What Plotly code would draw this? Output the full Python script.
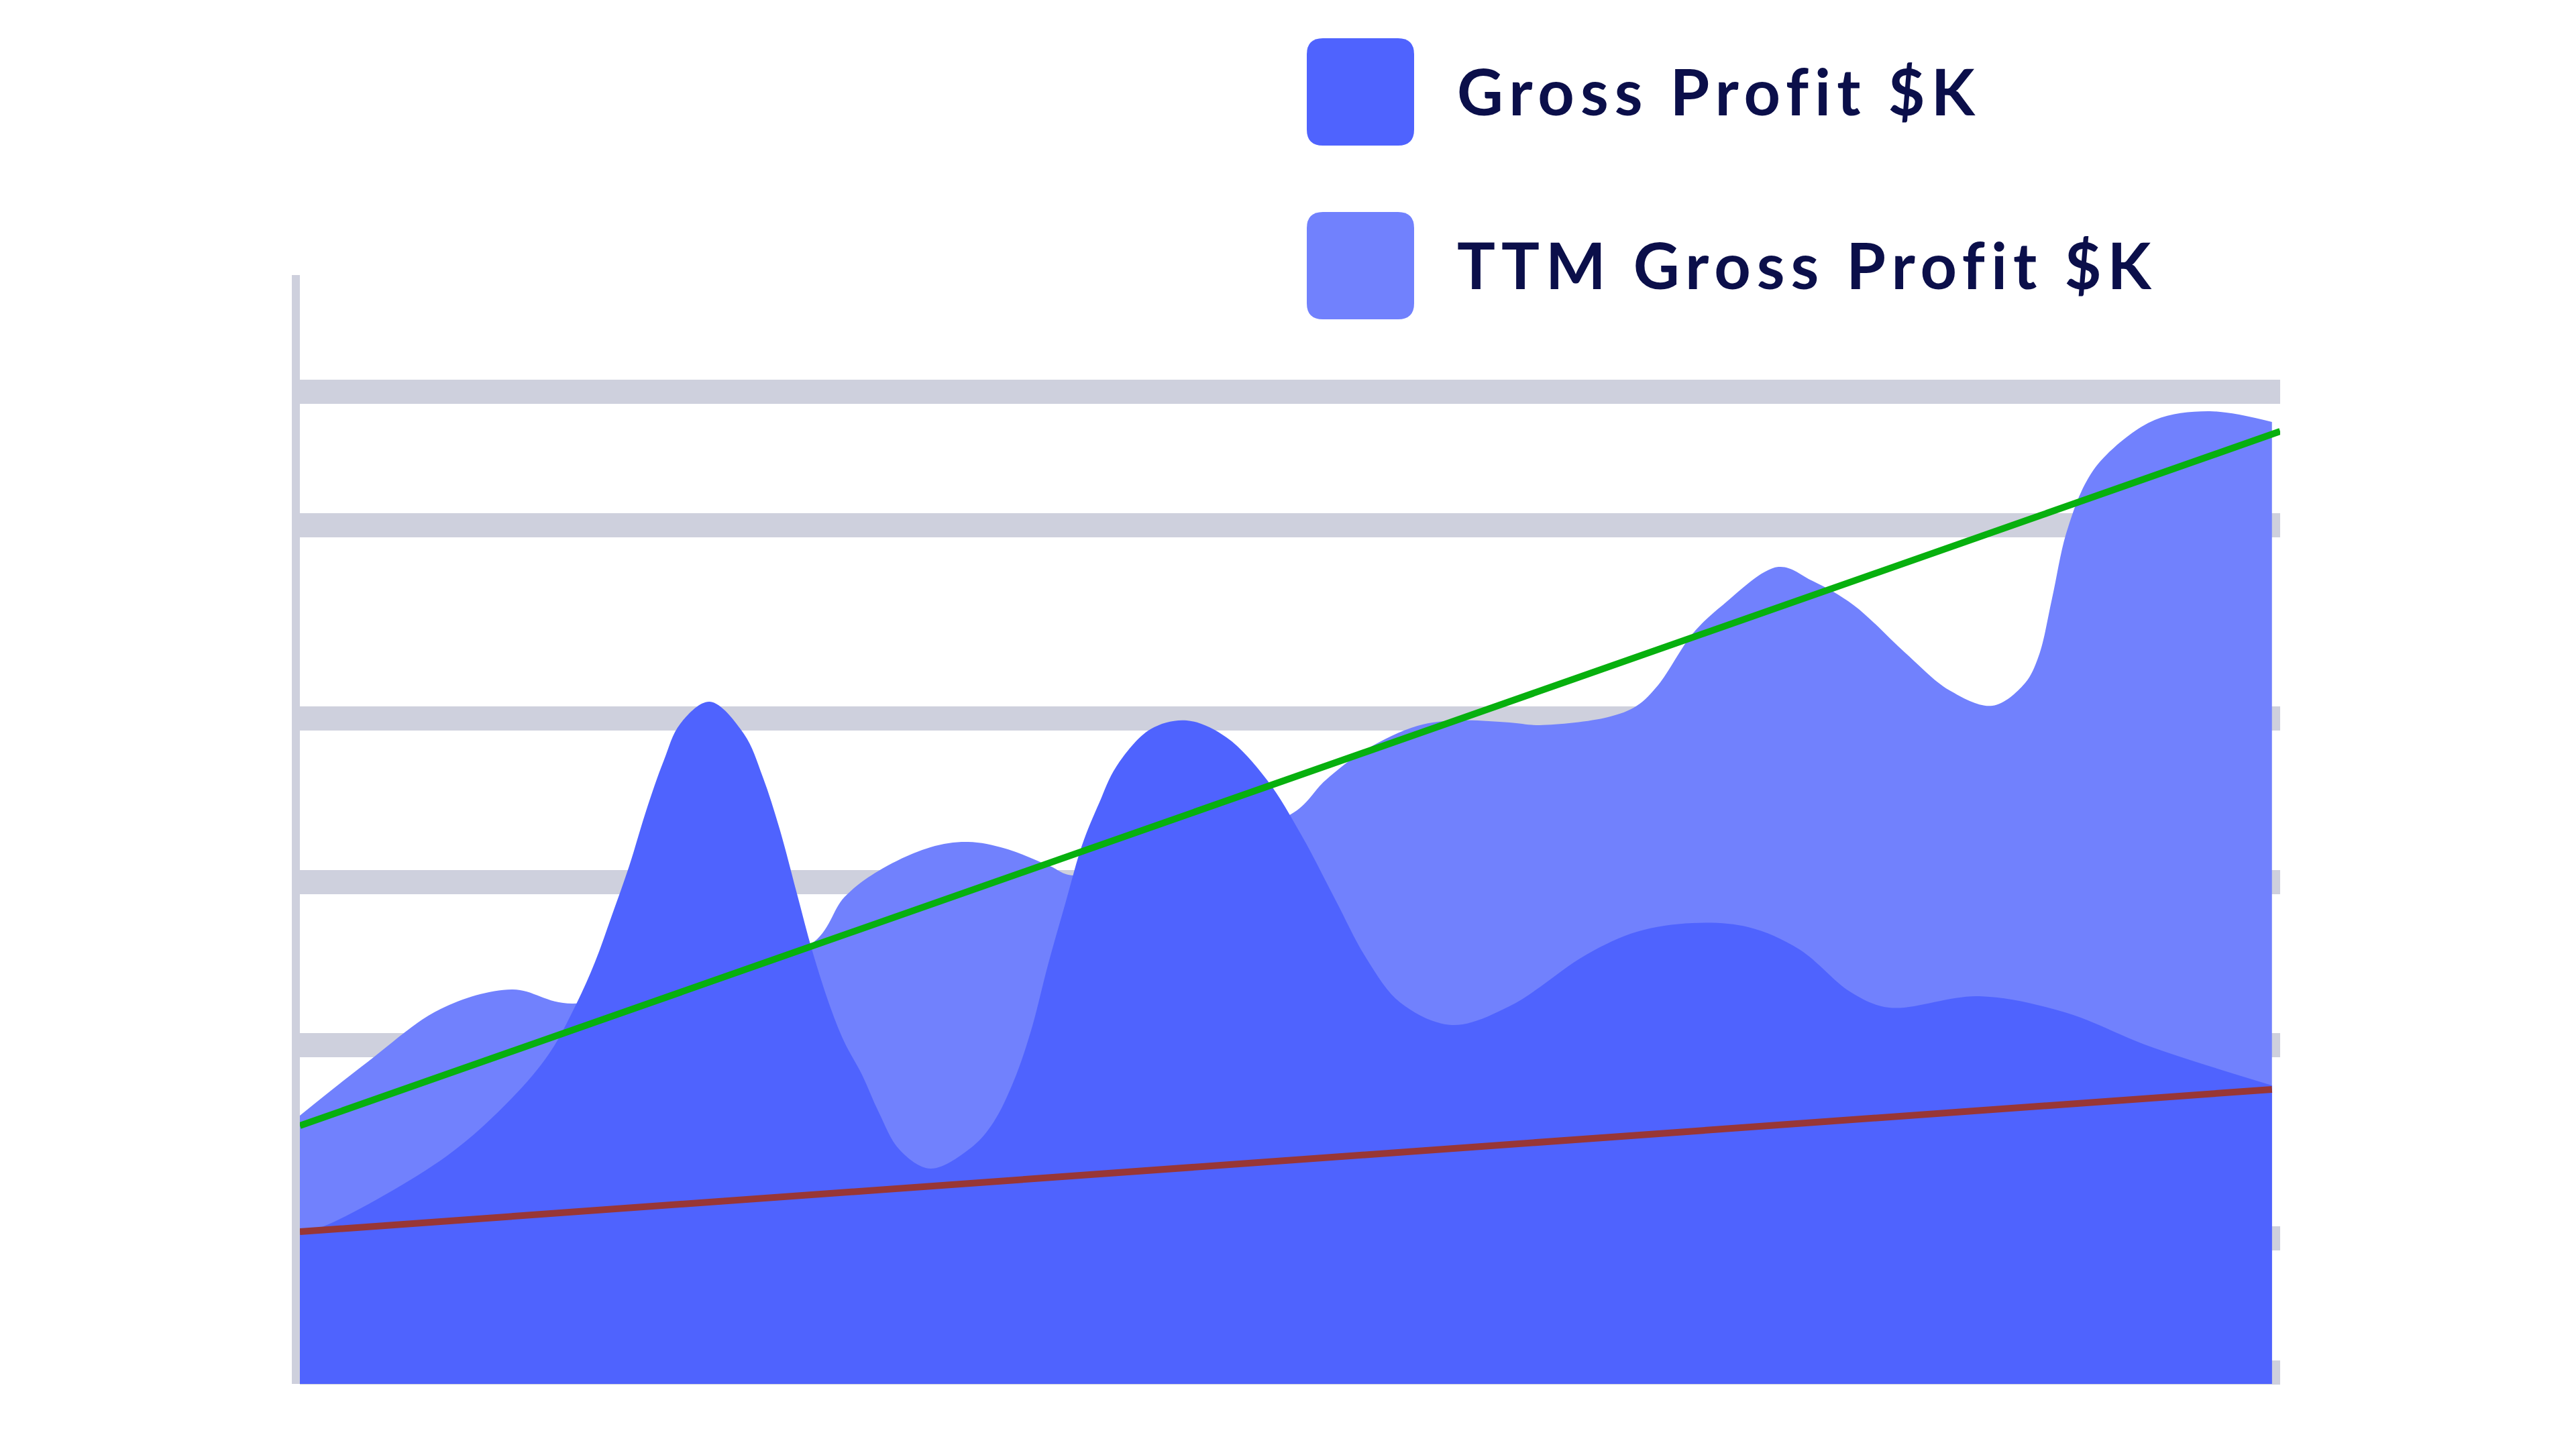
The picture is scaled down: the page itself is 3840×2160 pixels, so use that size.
import plotly.graph_objects as go

# Gross Profit $K
gp_x = [0.0, 0.35, 1.788, 2.58, 3.037, 3.363, 3.592, 3.796, 4.008, 4.213, 4.425, 4.629, 4.988,
        5.404, 5.633, 5.837, 6.049, 6.237, 6.466, 6.629, 6.841, 7.045, 7.299, 7.674, 8.188, 8.441,
        8.686, 8.899, 9.103, 9.315, 9.519, 9.731, 9.935, 10.352, 10.793, 11.274, 11.772, 12.189,
        12.605, 12.981, 13.397, 14.018, 14.72, 15.658, 16.271, 16.948, 17.626, 18.246, 18.875,
        19.34, 20.434, 21.479, 22.516, 24.0]
gp_y = [136.0, 144.0, 205.6, 257.7, 298.2, 342.4, 380.5, 422.3, 467.0, 516.6, 561.4, 595.3, 615.2,
        586.2, 547.5, 500.9, 442.2, 390.2, 337.6, 307.9, 278.9, 245.0, 211.1, 194.2, 214.2, 235.9,
        272.8, 318.8, 377.5, 433.1, 485.8, 524.5, 556.6, 590.4, 598.3, 583.2, 544.5, 494.9,
        436.2, 383.6, 343.6, 323.7, 340.6, 387.2, 407.7, 415.6, 412.0, 392.0, 353.3,
        339.4, 349.7, 335.1, 304.3, 269.2]

# TTM Gross Profit $K
ttm_x = [0.0, 0.825, 1.714, 2.58, 3.323, 6.213, 6.629, 7.045, 7.674, 8.131, 8.588, 9.127, 9.413,
         12.058, 12.483, 12.981, 13.601, 14.099, 14.72, 15.087, 15.92, 16.271, 16.532, 16.948,
         17.316, 17.993, 18.41, 18.908, 19.536, 20.075, 20.598, 20.99, 21.161, 21.324,
         21.496, 21.741, 21.994, 22.574, 23.243, 24.0]
ttm_y = [242.0, 290.4, 338.2, 355.7, 343.0, 396.2, 439.2, 462.8, 484.0, 488.8, 482.8, 467.0, 458.6,
         513.6, 544.5, 572.3, 593.5, 598.3, 596.5, 594.1, 601.3, 611.6, 630.4, 676.3,
         702.4, 736.8, 724.1, 702.4, 659.4, 625.5, 611.6, 631.6, 656.4, 708.4,
         767.1, 813.7, 838.5, 869.3, 877.2, 867.5]

# trend lines
ttm_trend_x = [0.0, 24.1]
ttm_trend_y = [232.9, 859.0]
gp_trend_x = [0.0, 24.0]
gp_trend_y = [137.3, 265.6]

grid_vals = [10.3, 131.3, 305.5, 452.5, 600.1, 774.4, 894.7]

legend_names = ["Gross Profit $K", "TTM Gross Profit $K"]
legend_colors = ["#4f63fe", "#7181fd"]

fig = go.Figure()

fig.add_trace(go.Scatter(x=ttm_x, y=ttm_y, mode='lines', line=dict(width=0, shape='spline', smoothing=1),
                         fill='tozeroy', fillcolor=legend_colors[1], name=legend_names[1], hoverinfo='skip'))
fig.add_trace(go.Scatter(x=gp_x, y=gp_y, mode='lines', line=dict(width=0, shape='spline', smoothing=1),
                         fill='tozeroy', fillcolor=legend_colors[0], name=legend_names[0], hoverinfo='skip'))
fig.add_trace(go.Scatter(x=ttm_trend_x, y=ttm_trend_y, mode='lines', line=dict(color='#07b00e', width=10),
                         hoverinfo='skip'))
fig.add_trace(go.Scatter(x=gp_trend_x, y=gp_trend_y, mode='lines', line=dict(color='#983636', width=10),
                         hoverinfo='skip'))

# legend drawn by hand: rounded swatches + labels
def rounded_box(x0, y0, x1, y1, rx, ry):
    return (f"M {x0+rx},{y0} L {x1-rx},{y0} Q {x1},{y0} {x1},{y0+ry} L {x1},{y1-ry} "
            f"Q {x1},{y1} {x1-rx},{y1} L {x0+rx},{y1} Q {x0},{y1} {x0},{y1-ry} "
            f"L {x0},{y0+ry} Q {x0},{y0} {x0+rx},{y0} Z")

W, H = 2952, 1653
shapes = []
annotations = []
for i, (name, col) in enumerate(zip(legend_names, legend_colors)):
    top = 57 + i * 259
    bot = top + 160
    px0 = (1948 - 447) / W
    px1 = (2108 - 447) / W
    py0 = (2063 - bot) / H
    py1 = (2063 - top) / H
    shapes.append(dict(type='path', xref='paper', yref='paper',
                       path=rounded_box(px0, py0, px1, py1, 24 / W, 24 / H),
                       fillcolor=col, line=dict(width=0)))
    annotations.append(dict(x=(2170 - 447) / W, y=(2063 - (top + 78)) / H, xref='paper', yref='paper',
                            xanchor='left', yanchor='middle', showarrow=False,
                            text=f'<span style="letter-spacing:9px">{name}</span>',
                            font=dict(family='Lato', size=95, color='#0b0f4a', weight=700)))

# page body has an 8px margin, so the figure is shifted and shrunk by that much
fig.update_layout(
    width=3832, height=2152,
    margin=dict(l=439, r=441, t=402, b=97),
    paper_bgcolor='white', plot_bgcolor='white',
    showlegend=False,
    shapes=shapes,
    annotations=annotations,
    xaxis=dict(range=[0, 24.1], showgrid=False, zeroline=False, showticklabels=False, showline=False),
    yaxis=dict(range=[0, 1000], tickvals=grid_vals, showticklabels=False, ticks='',
               showgrid=True, gridcolor='#ced0dd', gridwidth=36, zeroline=False,
               showline=True, linecolor='#ced0dd', linewidth=12),
)

fig.write_html("out.html")
